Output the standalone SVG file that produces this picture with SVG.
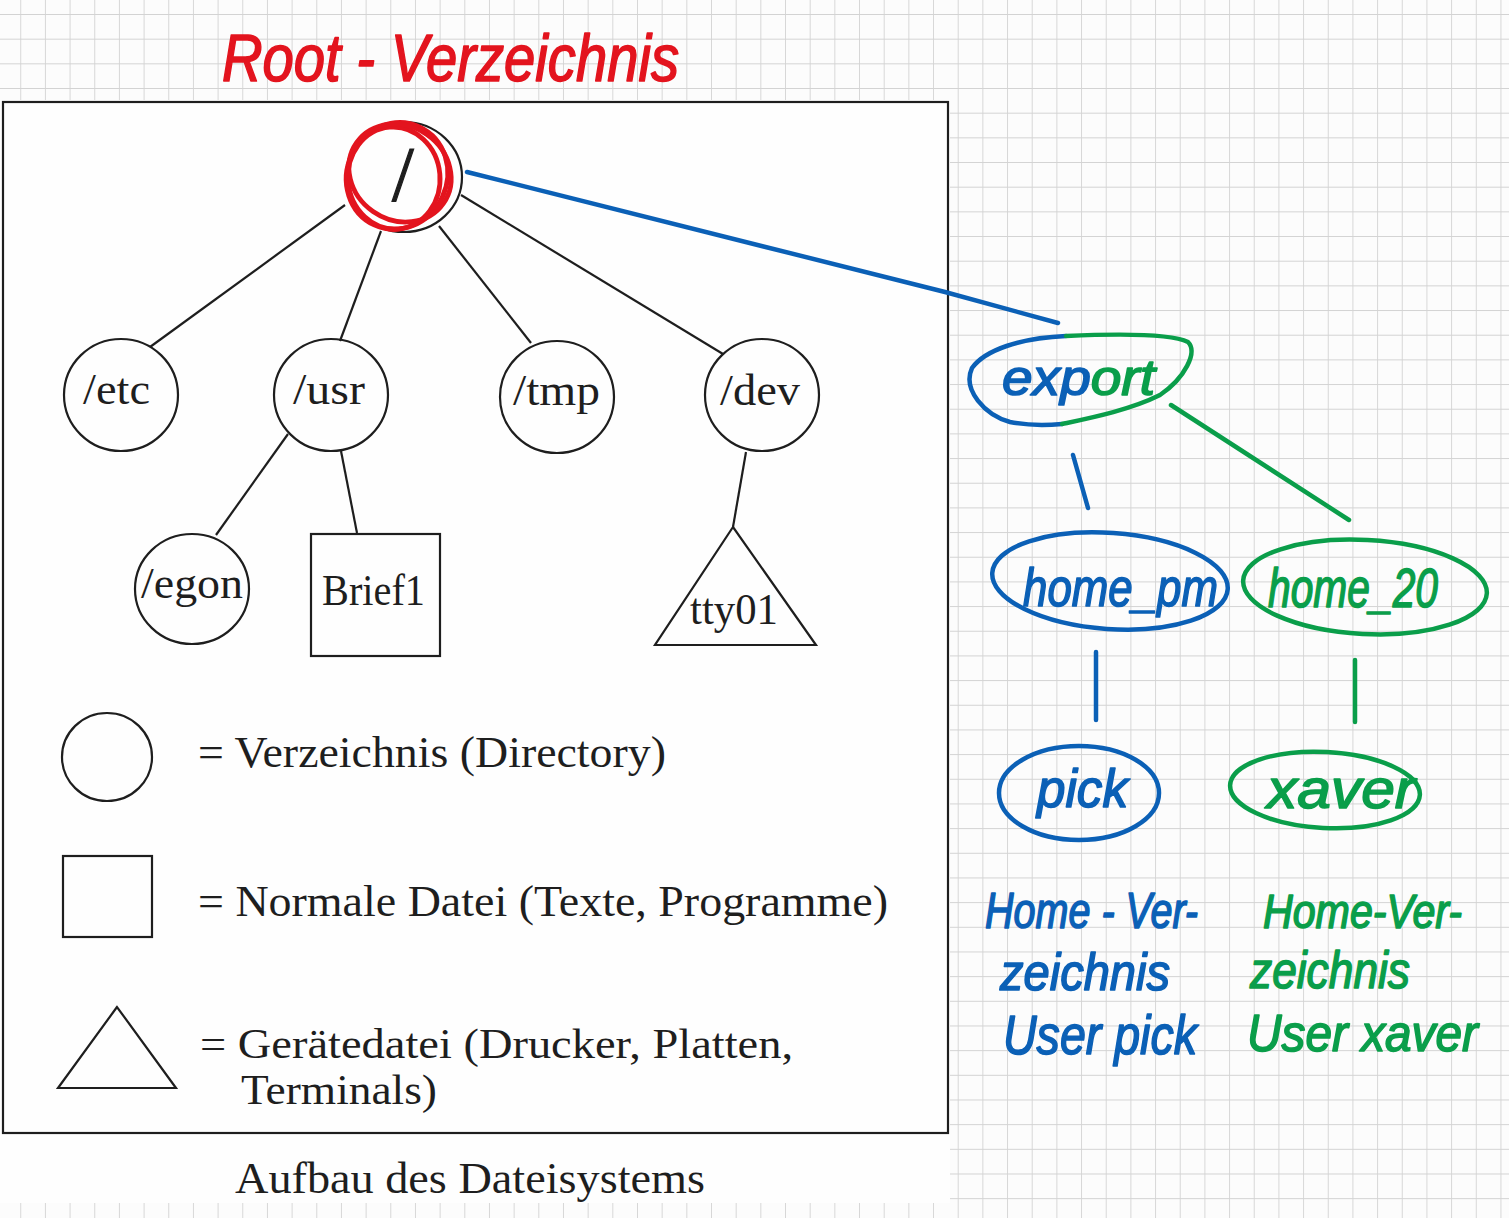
<svg xmlns="http://www.w3.org/2000/svg" width="1509" height="1218" viewBox="0 0 1509 1218">
<style>
.bk{fill:none;stroke:#1e1e1e;stroke-width:2.2}
.lbl{font-family:"Liberation Serif","Times New Roman",serif;font-size:45px;fill:#1e1e1e}
.hw{font-family:"Liberation Sans",Arial,sans-serif;font-style:italic;font-size:56px;stroke-width:1.6;stroke-linejoin:round}
.red{fill:#e3141e;stroke:#e3141e}.blue{fill:#0b60b6;stroke:#0b60b6}.green{fill:#0a9e4a;stroke:#0a9e4a}
.sred{fill:none;stroke:#e3141e;stroke-width:4.8;stroke-linecap:round}
.sblue{fill:none;stroke:#0b60b6;stroke-width:4.5;stroke-linecap:round}
.sgreen{fill:none;stroke:#0a9e4a;stroke-width:4.5;stroke-linecap:round}
</style>
<defs>
<pattern id="grid" patternUnits="userSpaceOnUse" x="20.24" y="14" width="24.67" height="24.67">
<path d="M0 0H24.67M0 0V24.67" fill="none" stroke="#d3d3d3" stroke-width="1.8"/>
</pattern>
</defs>
<rect x="0" y="0" width="1509" height="1218" fill="#fcfcfc"/>
<rect x="0" y="0" width="1509" height="1218" fill="url(#grid)"/>
<rect x="0" y="100" width="950" height="1103" fill="#fefefe"/>
<rect x="3" y="102" width="945" height="1031" class="bk" stroke-width="2.6"/>

<text id="title" class="hw red" x="222" y="81" style="font-size:66px" textLength="457" lengthAdjust="spacingAndGlyphs">Root - Verzeichnis</text>

<g id="connectors">
<line class="bk" x1="345" y1="205" x2="150" y2="347"/>
<line class="bk" x1="381" y1="231" x2="340" y2="341"/>
<line class="bk" x1="439" y1="226" x2="531" y2="343"/>
<line class="bk" x1="461" y1="195" x2="723" y2="354"/>
<line class="bk" x1="288" y1="434" x2="216" y2="535"/>
<line class="bk" x1="341" y1="451" x2="357" y2="533"/>
<line class="bk" x1="746" y1="452" x2="733" y2="527"/>
<path class="sblue" d="M467 172 L945 292 L1058 323"/>
<path class="sblue" d="M1073 455 L1088 508"/>
<path class="sgreen" d="M1171 405 L1349 520"/>
<path class="sblue" d="M1096 652 L1096 720"/>
<path class="sgreen" d="M1355 660 L1355 722"/>
</g>

<g id="root">
<ellipse class="bk" cx="404" cy="177" rx="58" ry="55"/>
<text class="lbl" x="392" y="200" style="font-size:78px" stroke="#1e1e1e" stroke-width="1.2">/</text>
<ellipse class="sred" cx="397" cy="176" rx="50" ry="54" transform="rotate(25 397 176)"/>
<ellipse class="sred" cx="394" cy="178" rx="46" ry="51" transform="rotate(-5 394 178)"/>
<ellipse class="sred" cx="400" cy="173" rx="53" ry="47" transform="rotate(35 400 173)"/>
</g>

<g id="etc">
<ellipse class="bk" cx="121" cy="395" rx="57" ry="56"/>
<text class="lbl" x="83" y="404" textLength="67" lengthAdjust="spacingAndGlyphs">/etc</text>
</g>
<g id="usr">
<ellipse class="bk" cx="331" cy="395" rx="57" ry="56"/>
<text class="lbl" x="293" y="404" textLength="72" lengthAdjust="spacingAndGlyphs">/usr</text>
</g>
<g id="tmp">
<ellipse class="bk" cx="557" cy="397" rx="57" ry="56"/>
<text class="lbl" x="513" y="405" textLength="87" lengthAdjust="spacingAndGlyphs">/tmp</text>
</g>
<g id="dev">
<ellipse class="bk" cx="762" cy="395" rx="57" ry="56"/>
<text class="lbl" x="720" y="405" textLength="80" lengthAdjust="spacingAndGlyphs">/dev</text>
</g>
<g id="egon">
<ellipse class="bk" cx="192" cy="589" rx="57" ry="55"/>
<text class="lbl" x="141" y="598" textLength="102" lengthAdjust="spacingAndGlyphs">/egon</text>
</g>
<g id="brief1">
<rect class="bk" x="311" y="534" width="129" height="122"/>
<text class="lbl" x="322" y="605" textLength="103" lengthAdjust="spacingAndGlyphs">Brief1</text>
</g>
<g id="tty01">
<polygon class="bk" points="733,527 655,645 816,645"/>
<text class="lbl" x="690" y="624" textLength="88" lengthAdjust="spacingAndGlyphs">tty01</text>
</g>

<g id="legend">
<ellipse class="bk" cx="107" cy="757" rx="45" ry="44"/>
<text class="lbl" x="198" y="767" textLength="468" lengthAdjust="spacingAndGlyphs">= Verzeichnis (Directory)</text>
<rect class="bk" x="63" y="856" width="89" height="81"/>
<text class="lbl" x="198" y="916" textLength="690" lengthAdjust="spacingAndGlyphs">= Normale Datei (Texte, Programme)</text>
<polygon class="bk" points="117,1007 58,1088 176,1088"/>
<text class="lbl" x="200" y="1058" style="font-size:43px" textLength="593" lengthAdjust="spacingAndGlyphs">= Gerätedatei (Drucker, Platten,</text>
<text class="lbl" x="241" y="1104" style="font-size:43px" textLength="196" lengthAdjust="spacingAndGlyphs">Terminals)</text>
</g>
<text id="caption" class="lbl" x="235" y="1193" textLength="470" lengthAdjust="spacingAndGlyphs">Aufbau des Dateisystems</text>

<g id="export">
<path class="sblue" d="M1066 336 C1020 338 985 350 972 368 C962 390 985 415 1010 422 C1030 426 1050 425 1062 424"/>
<path class="sgreen" d="M1066 336 C1110 334 1170 333 1188 342 C1198 352 1185 378 1160 395 C1130 410 1090 418 1062 424"/>
<text class="hw" x="1002" y="395" style="font-size:50px" textLength="153" lengthAdjust="spacingAndGlyphs"><tspan class="blue">exp</tspan><tspan class="green">ort</tspan></text>
</g>
<g id="home_pm">
<ellipse class="sblue" cx="1110" cy="581" rx="118" ry="48" transform="rotate(4 1110 581)"/>
<text class="hw blue" x="1023" y="606" style="font-size:54px" textLength="195" lengthAdjust="spacingAndGlyphs">home_pm</text>
</g>
<g id="home_20">
<ellipse class="sgreen" cx="1365" cy="587" rx="122" ry="47" transform="rotate(3 1365 587)"/>
<text class="hw green" x="1268" y="607" textLength="170" lengthAdjust="spacingAndGlyphs">home_20</text>
</g>
<g id="pick">
<ellipse class="sblue" cx="1079" cy="793" rx="80" ry="47"/>
<text class="hw blue" x="1037" y="807" style="font-size:54px" textLength="91" lengthAdjust="spacingAndGlyphs">pick</text>
</g>
<g id="xaver">
<ellipse class="sgreen" cx="1325" cy="790" rx="95" ry="38" transform="rotate(3 1325 790)"/>
<text class="hw green" x="1267" y="808" textLength="148" lengthAdjust="spacingAndGlyphs">xaver</text>
</g>

<g id="note_pick">
<text class="hw blue" x="985" y="928" style="font-size:50px" textLength="213" lengthAdjust="spacingAndGlyphs">Home - Ver-</text>
<text class="hw blue" x="1000" y="990" style="font-size:52px" textLength="170" lengthAdjust="spacingAndGlyphs">zeichnis</text>
<text class="hw blue" x="1003" y="1054" textLength="194" lengthAdjust="spacingAndGlyphs">User pick</text>
</g>
<g id="note_xaver">
<text class="hw green" x="1263" y="928" style="font-size:48px" textLength="199" lengthAdjust="spacingAndGlyphs">Home-Ver-</text>
<text class="hw green" x="1250" y="988" style="font-size:52px" textLength="160" lengthAdjust="spacingAndGlyphs">zeichnis</text>
<text class="hw green" x="1247" y="1051" style="font-size:52px" textLength="231" lengthAdjust="spacingAndGlyphs">User xaver</text>
</g>
</svg>
